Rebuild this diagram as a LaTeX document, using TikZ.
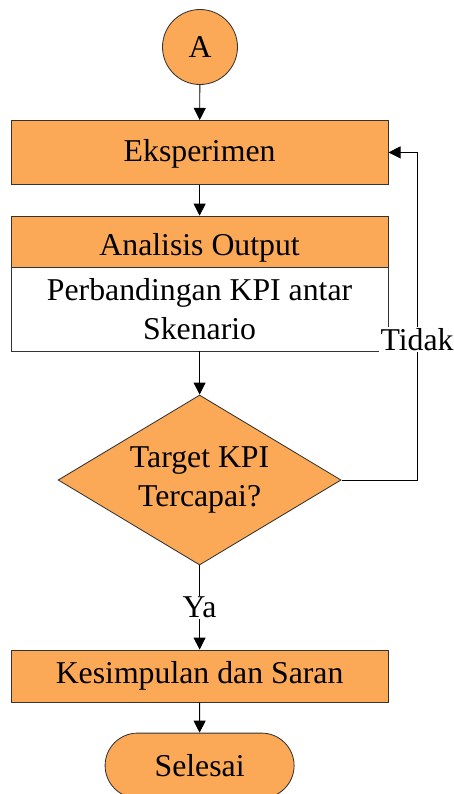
\documentclass[tikz,border=0pt]{standalone}
\usepackage{fontspec}
\setmainfont{Liberation Serif}
\usetikzlibrary{shapes.geometric,shapes.misc,arrows.meta}
\definecolor{oranye}{RGB}{251,168,87}
\tikzset{
  kotak/.style={draw=black!80, fill=oranye, line width=0.6pt, minimum width=9.425cm, inner sep=0pt},
  putih/.style={kotak, fill=white},
  panah/.style={-{Triangle[length=0.3cm,width=0.3cm]}, line width=0.6pt},
  garis/.style={line width=0.6pt}
}
\begin{document}
\begin{tikzpicture}[font=\fontsize{22.6}{27.5}\selectfont]
    \useasboundingbox (0, 0) rectangle (11.35, -19.85);
    % simbol alur
    \node[circle, draw=black!80, fill=oranye, line width=0.6pt, minimum size=1.875cm, inner sep=0pt] (mulai) at (5.0, -1.175) {A};
    \node[kotak, minimum height=1.6cm, text height=0.62cm, text depth=0.17cm] (eksperimen) at (4.99, -3.81) {Eksperimen};
    \node[kotak, minimum height=1.275cm, text height=0.84cm, text depth=0.17cm] (analisis) at (4.99, -6.04) {Analisis Output};
    \node[putih, minimum height=2.1cm, align=center] (banding) at (4.99, -7.725) {Perbandingan KPI antar\\Skenario};
    \node[diamond, draw=black!80, fill=oranye, line width=0.6pt, minimum width=7.075cm, minimum height=4.25cm, inner sep=0pt,
          label={[align=center]center:Target KPI\\Tercapai?}] (target) at (4.99, -12) {};
    \node[kotak, minimum height=1.3cm]   (simpulan)   at (4.99, -16.9)  {Kesimpulan dan Saran};
    \node[rounded rectangle, draw=black!80, fill=oranye, line width=0.6pt, minimum width=4.725cm, minimum height=1.625cm, inner sep=0pt] (selesai) at (4.99, -19.14) {Selesai};
    \coordinate (balikbawah) at (10.425, -12);
    \coordinate (balikatas)  at (10.425, -3.81);
    % penghubung
    \draw[panah] (mulai) -- (eksperimen);
    \draw[panah] (eksperimen) -- (analisis);
    \draw[panah] (banding) -- (target);
    \draw[panah] (target) -- node[fill=white, inner sep=1pt] {Ya} (simpulan);
    \draw[panah] (simpulan) -- (selesai);
    \draw[garis] (target.east) -- (balikbawah) -- node[pos=0.43, fill=white, inner sep=1pt] {Tidak} (balikatas);
    \draw[panah] (balikatas) -- (eksperimen.east);
\end{tikzpicture}
\end{document}
